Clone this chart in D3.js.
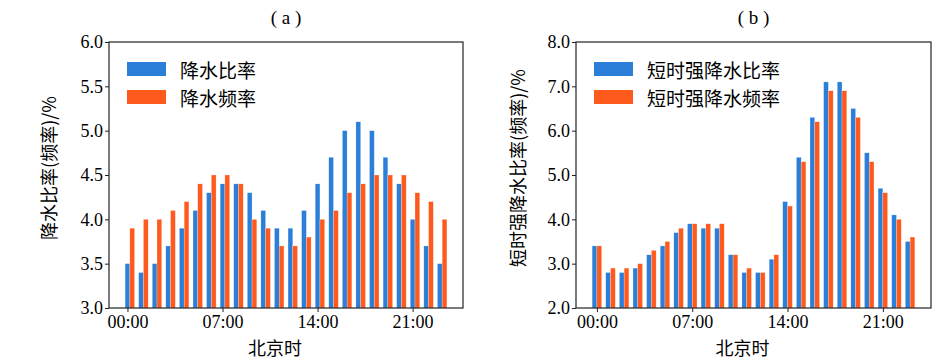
<!DOCTYPE html>
<html>
<head>
<meta charset="utf-8">
<script src="https://cdn.jsdelivr.net/npm/d3@7"></script>
<style>
  body { margin: 0; background: #fff; }
  svg text { fill: #000; }
</style>
</head>
<body>
<div id="chart"></div>
<script>
// data
var hours = d3.range(0, 24);
var hourTicks = [0, 7, 14, 21];
var hourTickLabels = ["00:00", "07:00", "14:00", "21:00"];

var rainRatio = [3.5, 3.4, 3.5, 3.7, 3.9, 4.1, 4.3, 4.4, 4.4, 4.3, 4.1, 3.9,
                 3.9, 4.1, 4.4, 4.7, 5.0, 5.1, 5.0, 4.7, 4.4, 4.0, 3.7, 3.5];
var rainFreq = [3.9, 4.0, 4.0, 4.1, 4.2, 4.4, 4.5, 4.5, 4.4, 4.0, 3.9, 3.7,
                3.7, 3.8, 4.0, 4.1, 4.3, 4.4, 4.5, 4.5, 4.5, 4.3, 4.2, 4.0];
var heavyRatio = [3.4, 2.8, 2.8, 2.9, 3.2, 3.4, 3.7, 3.9, 3.8, 3.8, 3.2, 2.8,
                  2.8, 3.1, 4.4, 5.4, 6.3, 7.1, 7.1, 6.5, 5.5, 4.7, 4.1, 3.5];
var heavyFreq = [3.4, 2.9, 2.9, 3.0, 3.3, 3.5, 3.8, 3.9, 3.9, 3.9, 3.2, 2.9,
                 2.8, 3.2, 4.3, 5.3, 6.2, 6.9, 6.9, 6.3, 5.3, 4.6, 4.0, 3.6];

var yTicksA = [3.0, 3.5, 4.0, 4.5, 5.0, 5.5, 6.0];
var yTicksB = [2.0, 3.0, 4.0, 5.0, 6.0, 7.0, 8.0];

var blue = "#2b7fd9";
var orange = "#ff5a1e";
var barW = 0.35;

var svg = d3.select("#chart")
  .append("svg")
  .attr("width", 950)
  .attr("height", 361);

function drawPanel(p) {
  var top = 42, bottom = 308;
  // x limits: bar extent plus 5% margin, like matplotlib
  var lo = p.offsets[0] - barW / 2, hi = 23 + p.offsets[1] + barW / 2;
  var pad = (hi - lo) * 0.05;
  var x = d3.scaleLinear().domain([lo - pad, hi + pad]).range([p.left, p.right]);
  var y = d3.scaleLinear().domain([p.yTicks[0], p.yTicks[p.yTicks.length - 1]]).range([bottom, top]);

  var g = svg.append("g");

  // bars
  [p.s1, p.s2].forEach(function (vals, k) {
    g.selectAll(null)
      .data(hours)
      .enter()
      .append("rect")
      .attr("x", function (h) { return x(h + p.offsets[k] - barW / 2); })
      .attr("width", function (h) { return x(barW) - x(0); })
      .attr("y", function (h) { return y(vals[h]); })
      .attr("height", function (h) { return bottom - y(vals[h]); })
      .attr("fill", k == 0 ? blue : orange)
      .attr("stroke", "#fff")
      .attr("stroke-opacity", 0.6)
      .attr("stroke-width", 0.4);
  });

  // x axis
  var xAxis = g.append("g")
    .attr("transform", "translate(0," + bottom + ")")
    .call(d3.axisBottom(x).tickValues(hourTicks)
      .tickFormat(function (d, i) { return hourTickLabels[i]; })
      .tickSize(4).tickPadding(3));
  xAxis.select(".domain").remove();

  // y axis
  var yAxis = g.append("g")
    .attr("transform", "translate(" + p.left + ",0)")
    .call(d3.axisLeft(y).tickValues(p.yTicks).tickFormat(d3.format(".1f"))
      .tickSize(4).tickPadding(2));
  yAxis.select(".domain").remove();

  g.selectAll(".tick line").attr("stroke", "#222").attr("stroke-width", 1);
  g.selectAll(".tick text")
    .attr("font-family", "'Liberation Serif', 'DejaVu Serif', serif")
    .attr("font-size", 18);

  // frame
  g.append("rect")
    .attr("x", p.left).attr("y", top)
    .attr("width", p.right - p.left).attr("height", bottom - top)
    .attr("fill", "none").attr("stroke", "#222").attr("stroke-width", 1.2);

  // title
  g.append("text")
    .attr("x", (p.left + p.right) / 2)
    .attr("y", 24)
    .attr("text-anchor", "middle")
    .attr("font-family", "'Liberation Serif', serif")
    .attr("font-size", 19)
    .text(p.title);

  // axis labels
  g.append("text")
    .attr("x", (p.left + p.right) / 2 - 11)
    .attr("y", 355)
    .attr("text-anchor", "middle")
    .attr("font-family", "'Noto Sans CJK SC', sans-serif")
    .attr("font-size", 18)
    .text("北京时");

  g.append("text")
    .attr("transform", "translate(" + p.ylabelX + ",168)rotate(-90)")
    .attr("text-anchor", "middle")
    .attr("dominant-baseline", "central")
    .attr("font-family", "'Noto Sans CJK SC', sans-serif")
    .attr("font-size", 18)
    .text(p.ylabel);

  // legend
  p.names.forEach(function (name, k) {
    var ly = 69 + k * 28;
    g.append("rect")
      .attr("x", p.legX).attr("y", ly - 7)
      .attr("width", 39).attr("height", 14)
      .attr("fill", k == 0 ? blue : orange);
    g.append("text")
      .attr("x", p.legX + 53).attr("y", ly)
      .attr("dominant-baseline", "central")
      .attr("font-family", "'Noto Sans CJK SC', sans-serif")
      .attr("font-size", 19)
      .text(name);
  });
}

drawPanel({
  left: 109, right: 463, yTicks: yTicksA, s1: rainRatio, s2: rainFreq,
  offsets: [0, barW], title: "( a )", ylabel: "降水比率(频率)/%", ylabelX: 48,
  names: ["降水比率", "降水频率"], legX: 127
});

drawPanel({
  left: 576, right: 931, yTicks: yTicksB, s1: heavyRatio, s2: heavyFreq,
  offsets: [-barW / 2, barW / 2], title: "( b )", ylabel: "短时强降水比率(频率)/%", ylabelX: 517,
  names: ["短时强降水比率", "短时强降水频率"], legX: 594
});
</script>
</body>
</html>
